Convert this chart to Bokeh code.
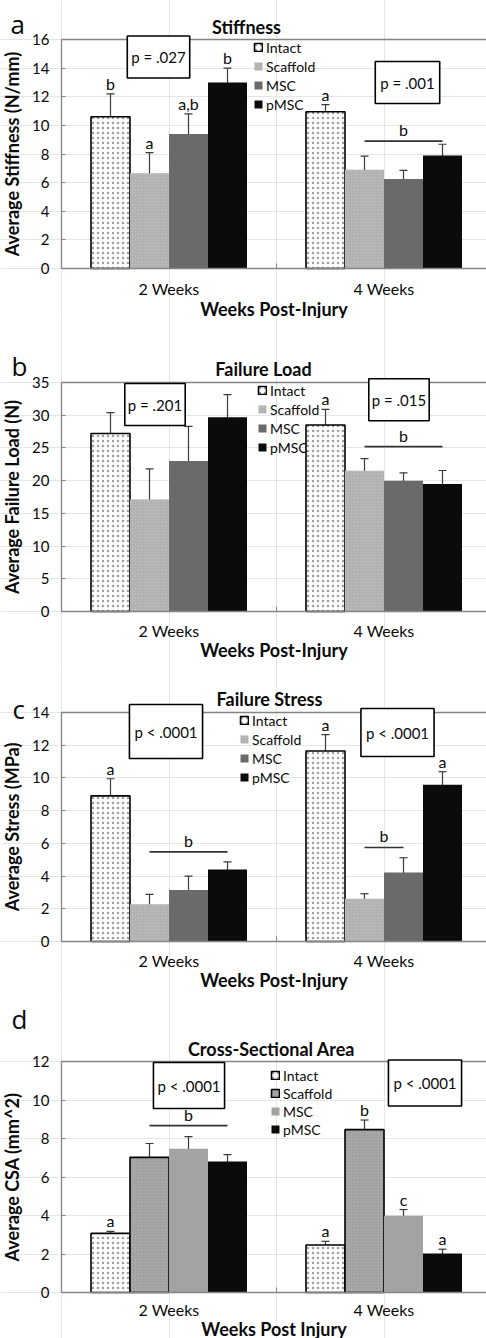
from bokeh.plotting import figure
from bokeh.models import (Range1d, FixedTicker, ColumnDataSource, Whisker, TeeHead,
                          Label, Legend, LegendItem, LinearAxis)
from bokeh.layouts import column
from bokeh.embed import file_html
from bokeh.resources import INLINE
from bokeh.core.properties import value

# ---------------- data ----------------
groups = ["2 Weeks", "4 Weeks"]
series = ["Intact", "Scaffold", "MSC", "pMSC"]

# (a) Stiffness (N/mm)
stiff_intact = [10.6, 10.95]
stiff_scaffold = [6.65, 6.9]
stiff_msc = [9.4, 6.25]
stiff_pmsc = [13.0, 7.9]
stiff_err_intact = [1.6, 0.5]
stiff_err_scaffold = [1.45, 0.95]
stiff_err_msc = [1.4, 0.6]
stiff_err_pmsc = [1.0, 0.78]
stiff_letters = [["b", "a"], ["a", ""], ["a,b", ""], ["b", ""]]
stiff_brackets = [(1, 1, 3, 8.9, "b")]
stiff_p = ["p = .027", "p = .001"]

# (b) Failure load (N)
load_intact = [27.2, 28.5]
load_scaffold = [17.1, 21.5]
load_msc = [23.0, 20.0]
load_pmsc = [29.7, 19.5]
load_err_intact = [3.2, 2.4]
load_err_scaffold = [4.7, 1.85]
load_err_msc = [5.3, 1.2]
load_err_pmsc = [3.45, 2.05]
load_letters = [["", "a"], ["", ""], ["", ""], ["", ""]]
load_brackets = [(1, 1, 3, 25.2, "b")]
load_p = ["p = .201", "p = .015"]

# (c) Failure stress (MPa)
stress_intact = [8.9, 11.65]
stress_scaffold = [2.28, 2.62]
stress_msc = [3.15, 4.22]
stress_pmsc = [4.4, 9.58]
stress_err_intact = [1.05, 1.0]
stress_err_scaffold = [0.6, 0.3]
stress_err_msc = [0.85, 0.9]
stress_err_pmsc = [0.47, 0.8]
stress_letters = [["a", "a"], ["", ""], ["", ""], ["", "a"]]
stress_brackets = [(0, 1, 3, 5.48, "b"), (1, 1, 2, 5.75, "b")]
stress_p = ["p < .0001", "p < .0001"]

# (d) Cross-sectional area (mm^2)
csa_intact = [3.07, 2.47]
csa_scaffold = [7.02, 8.46]
csa_msc = [7.47, 3.99]
csa_pmsc = [6.8, 2.03]
csa_err_intact = [0.11, 0.19]
csa_err_scaffold = [0.72, 0.5]
csa_err_msc = [0.63, 0.32]
csa_err_pmsc = [0.36, 0.22]
csa_letters = [["a", "a"], ["", "b"], ["", "c"], ["", "a"]]
csa_brackets = [(0, 1, 3, 8.67, "b")]
csa_p = ["p < .0001", "p < .0001"]

# ---------------- layout constants (page px) ----------------
W = 486
FONT = "Lato"
AXIS_X = 61            # page x of the value axis
PX_PER_GROUP = 215.0
C0 = 168.5             # page x of the first category centre
XL = (0 - C0) / PX_PER_GROUP
XR = (W - C0) / PX_PER_GROUP
XA = (AXIS_X - C0) / PX_PER_GROUP
BW = 39.0 / PX_PER_GROUP
INK = "#0a0a0a"
AXIS_GRAY = "#858585"

STYLE_ABC = [
    dict(fill_color="white", line_color="black", line_width=1.6, hatch_pattern="dot",
         hatch_color="#9e9e9e", hatch_scale=5, hatch_weight=1),
    dict(fill_color="#b8b8b8", line_color=None, hatch_pattern="dot",
         hatch_color="#a4a4a4", hatch_scale=3, hatch_weight=1),
    dict(fill_color="#6a6a6a", line_color=None),
    dict(fill_color="#0b0b0b", line_color=None),
]
STYLE_D = [
    dict(fill_color="white", line_color="black", line_width=1.6, hatch_pattern="dot",
         hatch_color="#9e9e9e", hatch_scale=5, hatch_weight=1),
    dict(fill_color="#a8a8a8", line_color="black", line_width=1.6, hatch_pattern="dot",
         hatch_color="#949494", hatch_scale=3, hatch_weight=1),
    dict(fill_color="#a3a3a3", line_color=None),
    dict(fill_color="#0b0b0b", line_color=None),
]


def make_panel(top, bottom, frame_top, frame_bottom, ymax, ystep,
               means, errs, letters, brackets, pvals, styles,
               letter, letter_xy, title, title_xy,
               ylabel, xlabel, tick_standoff, xlabel_standoff,
               pbox_xy, pbox_pad, legend_xy, legend_row):
    height = bottom - top
    ppu = (frame_bottom - frame_top) / ymax
    y_lo = -(bottom - frame_bottom) / ppu
    y_hi = ymax + (frame_top - top) / ppu
    p = figure(width=W, height=height, x_range=Range1d(XL, XR),
               y_range=Range1d(y_lo, y_hi), output_backend="svg",
               toolbar_location=None, x_axis_location=None, y_axis_location=None,
               min_border=0, min_border_left=0, min_border_right=0,
               min_border_top=0, min_border_bottom=0)
    p.outline_line_color = None
    p.background_fill_color = "white"
    p.border_fill_color = "white"

    def sy(ry):
        return bottom - ry

    items = []
    for s, name in enumerate(series):
        xs = [g + (s - 1.5) * BW for g in range(len(groups))]
        src = ColumnDataSource(dict(
            x=xs, top=means[s],
            upper=[m + e for m, e in zip(means[s], errs[s])],
            lower=[m - e for m, e in zip(means[s], errs[s])],
            lab=letters[s]))
        r = p.vbar(x="x", top="top", bottom=0, width=BW, source=src, **styles[s])
        items.append(LegendItem(label=name, renderers=[r]))
        w = Whisker(source=src, base="x", upper="upper", lower="lower",
                    line_color="#3a3a3a", line_width=1.2,
                    upper_head=TeeHead(size=8, line_color="#3a3a3a", line_width=1.2),
                    lower_head=TeeHead(size=8, line_color="#3a3a3a", line_width=1.2))
        p.add_layout(w)
        p.text(x="x", y="upper", text="lab", source=src, text_align="center",
               text_baseline="bottom", y_offset=-1, text_font=value(FONT),
               text_font_size=value("16px"), text_color=INK)

    # significance brackets
    bx0, bx1, by, bl = [], [], [], []
    for g, s0, s1, yv, lab in brackets:
        bx0.append(g + (s0 - 1.5) * BW)
        bx1.append(g + (s1 - 1.5) * BW)
        by.append(yv)
        bl.append(lab)
    bsrc = ColumnDataSource(dict(x0=bx0, x1=bx1, y=by, lab=bl,
                                 xm=[(a + b) / 2 for a, b in zip(bx0, bx1)]))
    p.segment(x0="x0", y0="y", x1="x1", y1="y", source=bsrc,
              line_color="#333333", line_width=1.6)
    p.text(x="xm", y="y", text="lab", source=bsrc, text_align="center",
           text_baseline="bottom", y_offset=-2, text_font=value(FONT),
           text_font_size=value("16px"), text_color=INK)

    # category axis (drawn at y = 0)
    xaxis = LinearAxis(fixed_location=0, bounds=(XA, XR),
                       ticker=FixedTicker(ticks=[0, 1], minor_ticks=[0.5]),
                       major_label_overrides={0: groups[0], 1: groups[1]})
    xaxis.major_tick_in = 0
    xaxis.major_tick_out = 0
    xaxis.minor_tick_in = 5
    xaxis.minor_tick_out = 0
    xaxis.axis_line_color = AXIS_GRAY
    xaxis.axis_line_width = 1.3
    xaxis.minor_tick_line_color = AXIS_GRAY
    xaxis.major_label_standoff = tick_standoff
    xaxis.major_label_text_font = FONT
    xaxis.major_label_text_font_size = "16px"
    xaxis.major_label_text_color = INK
    xaxis.axis_label = xlabel
    xaxis.axis_label_standoff = xlabel_standoff
    xaxis.axis_label_text_font = FONT
    xaxis.axis_label_text_font_size = "18px"
    xaxis.axis_label_text_font_style = "bold"
    xaxis.axis_label_text_color = INK
    p.add_layout(xaxis, "below")

    # top border of the plot area
    taxis = LinearAxis(fixed_location=ymax, bounds=(XA, XR),
                       ticker=FixedTicker(ticks=[]))
    taxis.axis_line_color = AXIS_GRAY
    taxis.axis_line_width = 1.5
    taxis.major_tick_line_color = None
    taxis.minor_tick_line_color = None
    taxis.major_label_text_alpha = 0
    p.add_layout(taxis, "above")

    # value axis
    yaxis = LinearAxis(fixed_location=XA, bounds=(0, ymax),
                       ticker=FixedTicker(ticks=list(range(0, ymax + 1, ystep))))
    yaxis.major_tick_in = 4
    yaxis.major_tick_out = 0
    yaxis.axis_line_color = AXIS_GRAY
    yaxis.axis_line_width = 1.3
    yaxis.major_tick_line_color = AXIS_GRAY
    yaxis.minor_tick_line_color = None
    yaxis.major_label_standoff = 12
    yaxis.major_label_text_font = FONT
    yaxis.major_label_text_font_size = "15px"
    yaxis.major_label_text_color = INK
    yaxis.axis_label = ylabel
    yaxis.axis_label_standoff = 6
    yaxis.axis_label_text_font = FONT
    yaxis.axis_label_text_font_size = "18px"
    yaxis.axis_label_text_font_style = "bold"
    yaxis.axis_label_text_color = INK
    p.add_layout(yaxis, "left")

    # panel letter and title
    p.add_layout(Label(x=letter_xy[0], y=sy(letter_xy[1]), x_units="screen",
                       y_units="screen", text=letter, text_align="left",
                       text_baseline="alphabetic", text_font="Open Sans",
                       text_font_size="26px", text_color=INK))
    p.add_layout(Label(x=title_xy[0], y=sy(title_xy[1]), x_units="screen",
                       y_units="screen", text=title, text_align="center",
                       text_baseline="middle", text_font=FONT, text_font_size="18px",
                       text_font_style="bold", text_color=INK))

    # p-value boxes
    for txt, (cx, cy), pad in zip(pvals, pbox_xy, pbox_pad):
        p.add_layout(Label(x=cx, y=sy(cy), x_units="screen", y_units="screen",
                           text=txt, text_align="center", text_baseline="middle",
                           text_font=FONT, text_font_size="15px", text_color=INK,
                           border_line_color="black", border_line_width=1.6,
                           background_fill_color="white", padding=pad))

    # legend
    leg = Legend(items=items, location=(legend_xy[0], sy(legend_xy[1])),
                 orientation="vertical", border_line_color=None,
                 background_fill_alpha=0, padding=0, margin=0, spacing=0,
                 glyph_width=10, glyph_height=10, label_height=legend_row,
                 label_standoff=3, label_text_font=FONT,
                 label_text_font_size="14px", label_text_color=INK)
    p.add_layout(leg, "center")
    return p


pa = make_panel(0, 318, 39, 268, 16, 2,
                [stiff_intact, stiff_scaffold, stiff_msc, stiff_pmsc],
                [stiff_err_intact, stiff_err_scaffold, stiff_err_msc, stiff_err_pmsc],
                stiff_letters, stiff_brackets, stiff_p, STYLE_ABC,
                "a", (10, 23), "Stiffness", (246, 26),
                "Average Stiffness (N/mm)", "Weeks Post-Injury", 10, -3,
                [(158, 56.5), (407, 82)], [(4, 12), (5, 12)],
                (253, 113.5), 19)

pb = make_panel(318, 665, 382, 611, 35, 5,
                [load_intact, load_scaffold, load_msc, load_pmsc],
                [load_err_intact, load_err_scaffold, load_err_msc, load_err_pmsc],
                load_letters, load_brackets, load_p, STYLE_ABC,
                "b", (11, 365), "Failure Load", (263, 368),
                "Average Failure Load (N)", "Weeks Post-Injury", 9, -4,
                [(154.5, 404), (398.5, 399.3)], [(3, 12), (3, 12)],
                (257, 456.5), 19)

pc = make_panel(665, 995, 712, 941, 14, 2,
                [stress_intact, stress_scaffold, stress_msc, stress_pmsc],
                [stress_err_intact, stress_err_scaffold, stress_err_msc, stress_err_pmsc],
                stress_letters, stress_brackets, stress_p, STYLE_ABC,
                "c", (12, 708), "Failure Stress", (269, 698),
                "Average Stress (MPa)", "Weeks Post-Injury", 9, -4,
                [(165.5, 731), (397, 732)], [(5, 18), (5, 15)],
                (239, 786.5), 19)

pd_ = make_panel(995, 1338, 1061, 1292, 12, 2,
                 [csa_intact, csa_scaffold, csa_msc, csa_pmsc],
                 [csa_err_intact, csa_err_scaffold, csa_err_msc, csa_err_pmsc],
                 csa_letters, csa_brackets, csa_p, STYLE_D,
                 "d", (11, 1018), "Cross-Sectional Area", (271, 1048),
                 "Average CSA (mm^2)", "Weeks Post Injury", 7, -4,
                 [(188.5, 1085), (424.5, 1082.5)], [(4, 14), (5, 14)],
                 (270, 1138), 18)

layout = column(pa, pb, pc, pd_, spacing=0)
open("out.html", "w").write(file_html(layout, INLINE))
